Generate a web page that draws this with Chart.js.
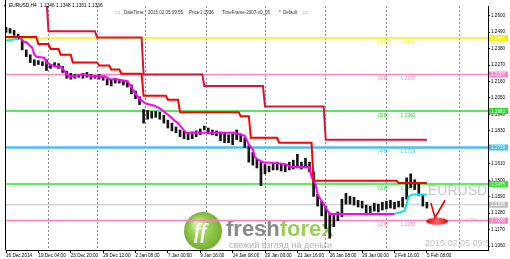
<!DOCTYPE html>
<html><head><meta charset="utf-8">
<script src="https://cdn.jsdelivr.net/npm/chart.js@4.4.1/dist/chart.umd.min.js"></script>
<style>html,body{margin:0;padding:0;background:#fff;}#wrap{width:510px;height:259px;}</style>
</head><body><div id="wrap"><canvas id="c" width="510" height="259"></canvas></div>
<script>
// ---- data ----
const xTickBars = [0,16,32,48,64,80,96,112,128,144,160,176,192,208];
const xTickLabels = ['16 Dec 2014','19 Dec 04:00','23 Dec 20:00','29 Dec 12:00','2 Jan 08:00','7 Jan 00:00','9 Jan 16:00','14 Jan 08:00','19 Jan 00:00','21 Jan 16:00','26 Jan 08:00','29 Jan 00:00','2 Feb 16:00','5 Feb 08:00'];
const gridBars = [21,45,69,99,128,158,188,224];
const yTicks = [1.2600,1.2490,1.2380,1.2270,1.2160,1.2050,1.1940,1.1830,1.1720,1.1610,1.1500,1.1390,1.1280,1.1170,1.1060];

const levelValues = [1.2451,1.2207,1.1963,1.1719,1.1475,1.1230];
const levelTags = ['[7/8]','[6/8]','[5/8]','[4/8]','[3/8]','[2/8]'];
const currentPrice = 1.1336;

const candleBar = [0,2,4,6,8,10,12,14,16,18,20,22,24,26,28,30,32,34,36,38,40,42,44,46,48,50,52,54,56,58,60,62,64,66,68,70,72,74,76,78,80,82,84,86,88,90,92,94,96,98,100,102,104,106,108,110,112,114,116,118,120,122,124,126,128,130,132,134,136,138,140,142,144,146,148,150,152,154,156,158,160,162,164,166,168,170,172,174,176,178,180,182,184,186,188,190,192,194,196,198,200,202,204,206,208];
const candleLow = [1.2489,1.2483,1.2469,1.2443,1.2372,1.2326,1.2287,1.2267,1.2274,1.2267,1.2234,1.2248,1.2261,1.2248,1.2221,1.2182,1.2176,1.2182,1.2189,1.2182,1.2189,1.2176,1.2182,1.2176,1.2169,1.2137,1.2130,1.2150,1.2150,1.2137,1.2123,1.2078,1.2045,1.2006,1.1882,1.1908,1.1915,1.1921,1.1908,1.1882,1.1849,1.1830,1.1817,1.1791,1.1778,1.1771,1.1778,1.1791,1.1804,1.1836,1.1810,1.1804,1.1797,1.1764,1.1751,1.1751,1.1738,1.1771,1.1758,1.1719,1.1621,1.1601,1.1582,1.1464,1.1543,1.1556,1.1569,1.1569,1.1562,1.1556,1.1569,1.1575,1.1582,1.1575,1.1582,1.1556,1.1392,1.1327,1.1262,1.1177,1.1112,1.1190,1.1229,1.1255,1.1340,1.1340,1.1334,1.1321,1.1314,1.1268,1.1281,1.1294,1.1288,1.1301,1.1308,1.1314,1.1308,1.1321,1.1321,1.1373,1.1451,1.1438,1.1399,1.1327,1.1314];
const candleHigh = [1.2522,1.2515,1.2502,1.2476,1.2437,1.2372,1.2339,1.2306,1.2300,1.2293,1.2306,1.2274,1.2287,1.2280,1.2261,1.2228,1.2215,1.2208,1.2208,1.2215,1.2221,1.2208,1.2202,1.2208,1.2195,1.2176,1.2169,1.2182,1.2176,1.2169,1.2163,1.2137,1.2097,1.2058,1.1973,1.1967,1.1960,1.1960,1.1954,1.1934,1.1902,1.1882,1.1856,1.1836,1.1830,1.1817,1.1823,1.1830,1.1843,1.1862,1.1849,1.1836,1.1830,1.1823,1.1817,1.1804,1.1810,1.1836,1.1810,1.1784,1.1732,1.1686,1.1640,1.1621,1.1608,1.1595,1.1614,1.1621,1.1608,1.1601,1.1621,1.1634,1.1673,1.1621,1.1647,1.1621,1.1556,1.1405,1.1360,1.1327,1.1281,1.1275,1.1288,1.1373,1.1412,1.1392,1.1386,1.1366,1.1360,1.1334,1.1327,1.1347,1.1340,1.1353,1.1360,1.1366,1.1353,1.1360,1.1386,1.1516,1.1543,1.1503,1.1484,1.1405,1.1353];

const trailBars = [0,15,16,21,22,26,27,32,33,45,46,51,52,56,57,67,68,79,80,85,86,115,116,120,121,134,135,151,152,193,194,208];
const trailVals = [1.2458,1.2458,1.2411,1.2411,1.2378,1.2378,1.2339,1.2339,1.2287,1.2287,1.2267,1.2267,1.2241,1.2241,1.2212,1.2212,1.2065,1.2065,1.2039,1.2039,1.1954,1.1954,1.1928,1.1928,1.1784,1.1784,1.1751,1.1751,1.1497,1.1497,1.1482,1.1482];

const stopBars = [0,20,21,44,45,67,68,97,98,127,128,157,158,208];
const stopVals = [1.2720,1.2720,1.2496,1.2496,1.2455,1.2455,1.2208,1.2208,1.2130,1.2130,1.1993,1.1993,1.1771,1.1771];

const maBars = [7,9,10,13,14,15,19,20,24,27,29,31,33,38,43,49,51,54,60,62,64,66,69,73,76,78,81,83,85,87,89,113,118,120,122,123,125,127,138,141,150,151,153,154,157,159,160,192];
const maVals = [1.2450,1.2424,1.2424,1.2385,1.2339,1.2326,1.2319,1.2287,1.2261,1.2261,1.2228,1.2195,1.2195,1.2208,1.2195,1.2195,1.2176,1.2176,1.2163,1.2123,1.2078,1.2045,1.2013,1.2000,1.1980,1.1960,1.1928,1.1902,1.1882,1.1849,1.1817,1.1817,1.1797,1.1738,1.1706,1.1654,1.1634,1.1621,1.1608,1.1588,1.1588,1.1523,1.1471,1.1405,1.1340,1.1294,1.1275,1.1275];

const cyanBars = [0,3,6,null,192,197,199,201,208];
const cyanVals = [1.2435,1.2440,1.2447,null,1.1275,1.1294,1.1392,1.1405,1.1405];

const arrowBars = [210,212,217];
const arrowVals = [1.1347,1.1249,1.1366];
const markBar = 213, markVal = 1.1226;

// ---- styles ----
const levelColors = ['#f4f400','#ff86c4','#22e022','#48c0f4','#33e233','#ff80c0'];
const levelWidths = [1.5,1.5,1.5,2.5,1.5,1.5];
const tagBar = 184, valBar = 195;
const X_MIN = 0, X_MAX = 238.2, Y_MIN = 1.10334, Y_MAX = 1.26653;
const FONT = '"Liberation Sans", Arial, sans-serif';

const pts = (bs, vs) => bs.map((b,i)=> b===null ? {x:100,y:null} : {x:b, y:vs[i]});

// ellipse marker image
const ell = document.createElement('canvas'); ell.width = 24; ell.height = 9;
(function(){ const c = ell.getContext('2d'); const g = c.createRadialGradient(12,4.5,1,12,4.5,11);
  g.addColorStop(0,'#ff6060'); g.addColorStop(1,'#e00000'); c.fillStyle = g;
  c.beginPath(); c.ellipse(12,4.5,11,3.6,0,0,Math.PI*2); c.fill(); })();

const datasets = [];
levelValues.forEach((v,i)=>datasets.push({type:'line', data:[{x:X_MIN,y:v},{x:X_MAX,y:v}], borderColor:levelColors[i], borderWidth:levelWidths[i], pointRadius:0, order:20}));
datasets.push({type:'line', data:[{x:X_MIN,y:currentPrice},{x:X_MAX,y:currentPrice}], borderColor:'#c4c4c4', borderWidth:1, pointRadius:0, order:19});
datasets.push({type:'bar', data: candleBar.map((b,k)=>({x:b, y:[candleLow[k], candleHigh[k]]})), backgroundColor:'#151515', barThickness:2, grouped:false, order:15});
datasets.push({type:'line', data:pts(maBars, maVals), borderColor:'#ff00ff', borderWidth:2, pointRadius:0, order:10});
datasets.push({type:'line', data:pts(cyanBars, cyanVals), borderColor:'#00e4ff', borderWidth:2, pointRadius:0, spanGaps:false, order:9});
datasets.push({type:'line', data:pts(trailBars, trailVals), borderColor:'#ff0000', borderWidth:2, pointRadius:0, order:8});
datasets.push({type:'line', data:pts(stopBars, stopVals), borderColor:'#dc143c', borderWidth:2, pointRadius:0, order:7});
datasets.push({type:'scatter', data:[{x:markBar,y:markVal}], pointStyle:ell, pointRadius:5, order:6});
datasets.push({type:'line', data:pts(arrowBars, arrowVals), borderColor:'#ee0000', borderWidth:1.6, pointRadius:0, order:5});

const decor = {
  id:'decor',
  beforeDraw(chart){ const ctx = chart.ctx; ctx.save(); ctx.fillStyle='#fff'; ctx.fillRect(0,0,chart.width,chart.height); ctx.restore(); },
  beforeDatasetsDraw(chart){
    const {ctx, chartArea:a, scales:{x,y}} = chart;
    ctx.save();
    ctx.beginPath(); ctx.rect(a.left, a.top, a.right-a.left, a.bottom-a.top); ctx.clip();
    ctx.textAlign='left'; ctx.textBaseline='alphabetic';
    ctx.fillStyle='#c8c8c8'; ctx.font='14px '+FONT; ctx.fillText('EURUSD', 428, 195);
    ctx.fillStyle='#c2c2c2'; ctx.font='9px '+FONT; ctx.fillText('2015.02.05 09:55', 425, 246);
    // logo
    const cx=203, cy=231, r=19;
    const g = ctx.createRadialGradient(cx-6,cy-8,2,cx,cy,r);
    g.addColorStop(0,'#d4eeaa'); g.addColorStop(0.45,'#9ccf55'); g.addColorStop(1,'#74b032');
    ctx.fillStyle=g; ctx.beginPath(); ctx.arc(cx,cy,r,0,Math.PI*2); ctx.fill();
    ctx.fillStyle='#ffffff'; ctx.font='italic bold 20px "Liberation Serif", serif'; ctx.fillText('ff', cx-9, cy+7);
    ctx.font='bold 22px '+FONT; ctx.fillStyle='#8a8a8a'; ctx.fillText('fresh', 226, 236);
    const w = ctx.measureText('fresh').width; ctx.fillStyle='#9ccf55'; ctx.fillText('forex', 226+w, 236);
    ctx.font='9px '+FONT; ctx.fillStyle='#b4b4b4'; ctx.fillText('свежий взгляд на деньги', 229, 248);
    // level tags
    ctx.font='4.8px '+FONT; ctx.textBaseline='middle';
    levelValues.forEach((v,i)=>{ const py = y.getPixelForValue(v)+4.5; ctx.fillStyle=levelColors[i];
      ctx.fillText(levelTags[i], x.getPixelForValue(tagBar), py); ctx.fillText(v.toFixed(4), x.getPixelForValue(valBar), py); });
    ctx.fillStyle='#f0c4d4'; ctx.fillText('LOW', 466, y.getPixelForValue(levelValues[5]));
    ctx.restore();
  },
  afterDraw(chart){
    const {ctx, chartArea:a, scales:{y}} = chart;
    ctx.save();
    ctx.strokeStyle='#000'; ctx.lineWidth=1; ctx.beginPath(); ctx.moveTo(a.left-0.5, 0); ctx.lineTo(a.left-0.5, a.bottom); ctx.stroke();
    ctx.textAlign='left'; ctx.textBaseline='middle';
    ctx.fillStyle='#000'; ctx.font='4px '+FONT; ctx.fillText('▼', 3, 6);
    ctx.font='4.8px '+FONT; ctx.fillText('EURUSD,H4', 9, 6); ctx.fillText('1.1346 1.1348 1.1331 1.1336', 40, 6);
    ctx.fillStyle='#333'; ctx.font='4.5px '+FONT;
    [['::::',115],['DateTime:',124],['2015.02.05 09:55',148],['Price:',189],['1.1336',200],['TimeFrame-2007-v0_05',222],['*',279],['Default',283],['::::',303]].forEach(t=>ctx.fillText(t[0], t[1], 13));
    // price boxes on the axis
    const boxes = levelValues.map((v,i)=>[v, levelColors[i]]).concat([[currentPrice,'#c0c0c0']]);
    ctx.font='4.6px '+FONT;
    boxes.forEach(([v,c])=>{ const py = y.getPixelForValue(v); ctx.fillStyle=c; ctx.fillRect(a.right+1, py-3, 19, 6);
      ctx.fillStyle='#fff'; ctx.fillText(v.toFixed(4), a.right+3, py+0.3); });
    ctx.restore();
  }
};

new Chart(document.getElementById('c'), {
  type:'bar',
  data:{datasets},
  options:{
    responsive:false, animation:false, devicePixelRatio:1,
    layout:{padding:{left:2, top:0, right:0, bottom:0}},
    plugins:{legend:{display:false}, tooltip:{enabled:false}},
    scales:{
      x:{type:'linear', position:'bottom', min:X_MIN, max:X_MAX, offset:false, weight:1,
        grid:{drawOnChartArea:false, drawTicks:true, tickLength:3, color:'#000', offset:false},
        border:{display:true, color:'#000', width:1},
        ticks:{autoSkip:false, maxRotation:0, minRotation:0, align:'start', padding:0, color:'#000', font:{size:4.6, family:FONT},
          callback:(v,i)=>xTickLabels[i]},
        afterBuildTicks:s=>{ s.ticks = xTickBars.map(v=>({value:v})); },
        afterFit:s=>{ s.height = 9; }
      },
      xg:{type:'linear', position:'bottom', min:X_MIN, max:X_MAX, offset:false, weight:2,
        grid:{drawOnChartArea:true, drawTicks:false, color:'#8c8c8c', lineWidth:1, offset:false},
        border:{display:false, dash:[2,2]},
        ticks:{display:false},
        afterBuildTicks:s=>{ s.ticks = gridBars.map(v=>({value:v})); },
        afterFit:s=>{ s.height = 0; }
      },
      y:{type:'linear', position:'right', min:Y_MIN, max:Y_MAX, beginAtZero:false,
        grid:{drawOnChartArea:false, drawTicks:true, tickLength:2, color:'#000'},
        border:{display:true, color:'#000', width:1},
        ticks:{autoSkip:false, padding:1, color:'#000', crossAlign:'near', font:{size:4.6, family:FONT},
          callback:(v)=>Number(v).toFixed(4)},
        afterBuildTicks:s=>{ s.ticks = yTicks.map(v=>({value:v})); },
        afterFit:s=>{ s.width = 22; }
      }
    }
  },
  plugins:[decor]
});
</script>
</body></html>
